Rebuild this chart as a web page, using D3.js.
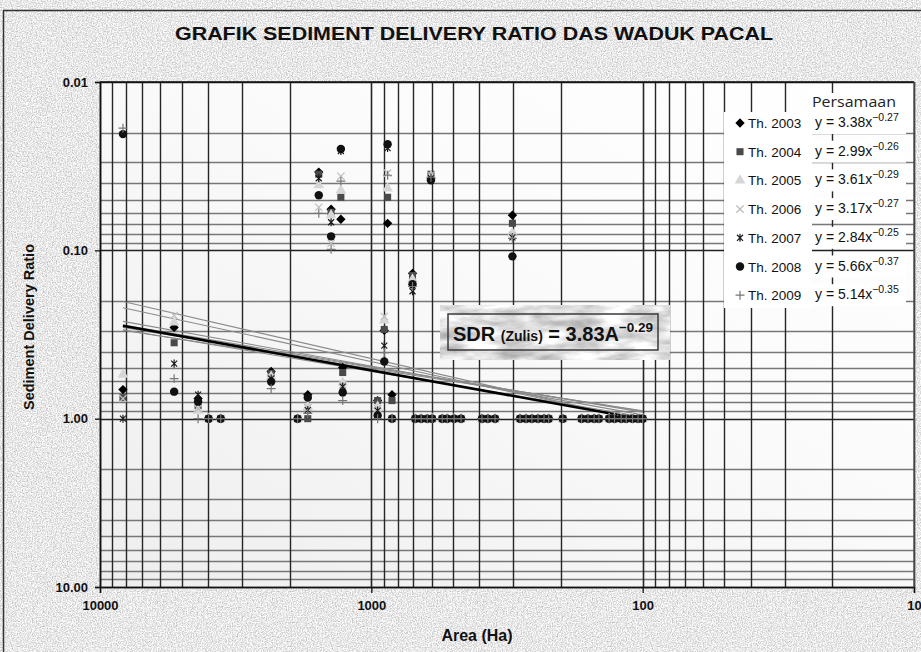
<!DOCTYPE html>
<html>
<head>
<meta charset="utf-8">
<script src="https://cdn.jsdelivr.net/npm/d3@7"></script>
<style>
  body { margin: 0; background: #fff; }
  svg { display: block; font-family: Arial, "Liberation Sans", sans-serif; }
</style>
</head>
<body>
<svg width="921" height="652"></svg>
<script>
// ---- values ----
const years = ['Th. 2003', 'Th. 2004', 'Th. 2005', 'Th. 2006', 'Th. 2007', 'Th. 2008', 'Th. 2009'];
const coefA = [3.38, 2.99, 3.61, 3.17, 2.84, 5.66, 5.14];
const coefB = [-0.27, -0.26, -0.29, -0.27, -0.25, -0.37, -0.35];
const zulis = [3.83, -0.29];
const trendRange = [8230, 100];

// sub-catchments whose SDR changes from year to year (area in Ha)
const areas = [8230, 5330, 4350, 2340, 1715, 1562, 1407, 1295, 1275, 948, 896, 871, 839, 705, 603, 302];
const sdr2003 = [0.672, 0.287, 0.760, 0.525, 0.72, 0.0343, 0.0570, 0.0654, 0.497, 0.781, 0.299, 0.0691, 0.720, 0.137, 0.0373, 0.0619];
const sdr2004 = [0.750, 0.354, 0.837, 0.540, 1.00, 0.0353, 0.0594, 0.0484, 0.532, 0.781, 0.295, 0.0484, 0.781, 0.141, 0.0353, 0.0691];
const sdr2005 = [0.547, 0.268, 0.896, 0.562, 0.85, 0.0410, 0.0619, 0.0440, 0.611, 0.849, 0.261, 0.0428, 1.00, 0.149, 0.0363, 0.0792];
const sdr2006 = [0.760, 0.244, 0.872, 0.570, 0.86, 0.0555, 0.0908, 0.0363, 0.628, 0.872, 0.247, 0.0348, 1.00, 0.157, 0.0358, 0.0814];
const sdr2007 = [1.00, 0.471, 0.720, 0.578, 0.89, 0.0373, 0.0681, 0.0257, 0.645, 0.896, 0.368, 0.0247, 1.00, 0.175, 0.0373, 0.0837];
const sdr2008 = [0.0204, 0.691, 0.792, 0.603, 0.75, 0.0471, 0.0826, 0.0250, 0.700, 0.959, 0.458, 0.0234, 1.00, 0.159, 0.0383, 0.1086];
const sdr2009 = [0.0188, 0.578, 1.00, 0.663, 0.93, 0.0602, 0.0986, 0.0388, 0.781, 1.00, 0.405, 0.0358, 1.00, 0.164, 0.0368, 0.0848];

// sub-catchments where every year gives SDR = 1.00
const areasAtOne = [3980, 3590, 1870, 689, 655, 622, 597, 548, 525, 495, 467, 391, 372, 350,
  283, 269, 256, 243, 231, 222, 197, 168, 159, 151, 145, 133, 127, 120, 115, 109, 104, 100];
const sdrAtOne = 1.0;

const yTickValues = [0.01, 0.1, 1, 10];
const xTickValues = [10000, 1000, 100, 10];

const series = [sdr2003, sdr2004, sdr2005, sdr2006, sdr2007, sdr2008, sdr2009];

// ---- layout ----
const svg = d3.select('svg');
const plotL = 100, plotR = 914, plotT = 82, plotB = 587;

const x = d3.scaleLog().domain([10000, 10]).range([plotL, plotR]);
const y = d3.scaleLog().domain([0.01, 10]).range([plotT, plotB]);

const defs = svg.append('defs');
const paper = defs.append('filter').attr('id', 'paper')
  .attr('filterUnits', 'userSpaceOnUse')
  .attr('x', 0).attr('y', 0).attr('width', 921).attr('height', 652)
  .attr('color-interpolation-filters', 'sRGB');
paper.append('feTurbulence').attr('type', 'fractalNoise')
  .attr('baseFrequency', 0.8).attr('numOctaves', 3).attr('seed', 4);
paper.append('feColorMatrix').attr('type', 'matrix')
  .attr('values', '0.5 0 0 0 0.66  0.5 0 0 0 0.66  0.5 0 0 0 0.66  0 0 0 0 1');

const marble = defs.append('filter').attr('id', 'marble')
  .attr('filterUnits', 'userSpaceOnUse')
  .attr('x', 440).attr('y', 305).attr('width', 230).attr('height', 55)
  .attr('color-interpolation-filters', 'sRGB');
marble.append('feTurbulence').attr('type', 'fractalNoise')
  .attr('baseFrequency', '0.03 0.1').attr('numOctaves', 4).attr('seed', 9);
marble.append('feColorMatrix').attr('type', 'matrix')
  .attr('values', '0.55 0 0 0 0.6  0.55 0 0 0 0.6  0.55 0 0 0 0.6  0 0 0 0 1');

const grad = defs.append('linearGradient').attr('id', 'plotbg')
  .attr('x1', 0).attr('y1', 1).attr('x2', 1).attr('y2', 0);
grad.append('stop').attr('offset', 0).attr('stop-color', '#eeeeee');
grad.append('stop').attr('offset', 0.6).attr('stop-color', '#fbfbfb');
grad.append('stop').attr('offset', 1).attr('stop-color', '#ffffff');

// textured page and frame
svg.append('rect').attr('x', 3).attr('y', 10).attr('width', 918).attr('height', 642)
  .attr('filter', 'url(#paper)');
svg.append('rect').attr('x', 3.5).attr('y', 10.5).attr('width', 930).attr('height', 660)
  .attr('fill', 'none').attr('stroke', '#333').attr('stroke-width', 1.5);

svg.append('rect').attr('x', plotL).attr('y', plotT)
  .attr('width', plotR - plotL).attr('height', plotB - plotT)
  .attr('fill', 'url(#plotbg)');

// gridlines
const isMajor = (v) => Math.abs(Math.log10(v) - Math.round(Math.log10(v))) < 1e-9;
svg.append('g').selectAll('line')
  .data(y.ticks())
  .join('line')
    .attr('x1', plotL).attr('x2', plotR)
    .attr('y1', (d) => Math.round(y(d)) + 0.5).attr('y2', (d) => Math.round(y(d)) + 0.5)
    .attr('stroke', (d) => isMajor(d) ? '#222' : '#777')
    .attr('stroke-width', (d) => isMajor(d) ? 1.5 : 1.3);
svg.append('g').selectAll('line')
  .data(x.ticks())
  .join('line')
    .attr('y1', plotT).attr('y2', plotB)
    .attr('x1', (d) => Math.round(x(d)) + 0.5).attr('x2', (d) => Math.round(x(d)) + 0.5)
    .attr('stroke', '#262626')
    .attr('stroke-width', (d) => isMajor(d) ? 1.6 : 1.4);

// axes
const yAxis = svg.append('g').attr('transform', `translate(${plotL},0)`)
  .call(d3.axisLeft(y).tickValues(yTickValues).tickFormat(d3.format('.2f'))
    .tickSize(5).tickPadding(7));
const xAxis = svg.append('g').attr('transform', `translate(0,${plotB})`)
  .call(d3.axisBottom(x).tickValues(xTickValues).tickFormat(d3.format('d'))
    .tickSize(6).tickPadding(8));
[yAxis, xAxis].forEach((g) => {
  g.select('.domain').attr('stroke', '#111').attr('stroke-width', 1.5);
  g.selectAll('.tick line').attr('stroke', '#111').attr('stroke-width', 1.3);
  g.selectAll('.tick text').attr('fill', '#111').attr('font-size', 13)
    .attr('font-weight', 'bold').attr('font-family', 'Arial, "Liberation Sans", sans-serif');
});
svg.append('line').attr('x1', plotL).attr('x2', plotR).attr('y1', plotT).attr('y2', plotT)
  .attr('stroke', '#111').attr('stroke-width', 1.5);
svg.append('line').attr('x1', plotR).attr('x2', plotR).attr('y1', plotT).attr('y2', plotB)
  .attr('stroke', '#555').attr('stroke-width', 1.3);

// trendlines
const line = d3.line().x((d) => x(d[0])).y((d) => y(d[1]));
const power = (a, b) => trendRange.map((A) => [A, a * Math.pow(A, b)]);
svg.append('g').selectAll('path')
  .data(coefA.map((a, i) => power(a, coefB[i])))
  .join('path')
    .attr('d', line)
    .attr('fill', 'none')
    .attr('stroke', '#8a8a8a')
    .attr('stroke-width', 1.1);
svg.append('path')
  .attr('d', line(power(zulis[0], zulis[1])))
  .attr('fill', 'none').attr('stroke', '#000').attr('stroke-width', 2.6);

// markers
const starX = {
  draw(ctx, size) {
    const r = Math.sqrt(size) * 0.62;
    const k = r * 0.75;
    ctx.moveTo(0, -r); ctx.lineTo(0, r);
    ctx.moveTo(-k, -k); ctx.lineTo(k, k);
    ctx.moveTo(-k, k); ctx.lineTo(k, -k);
  }
};
const markerStyle = [
  { type: d3.symbolDiamond2 || d3.symbolDiamond, size: 56, fill: '#000', stroke: null },
  { type: d3.symbolSquare, size: 50, fill: '#4a4a4a', stroke: null },
  { type: d3.symbolTriangle, size: 50, fill: '#d6d6d6', stroke: null },
  { type: d3.symbolX || d3.symbolCross, size: 36, fill: 'none', stroke: '#bcbcbc' },
  { type: starX, size: 42, fill: 'none', stroke: '#1a1a1a' },
  { type: d3.symbolCircle, size: 56, fill: '#111', stroke: null },
  { type: d3.symbolPlus || d3.symbolCross, size: 28, fill: 'none', stroke: '#777' }
];
const sym = (m) => d3.symbol().type(m.type).size(m.size)();

series.forEach((vals, i) => {
  const m = markerStyle[i];
  const pts = areas.map((A, j) => [A, vals[j]])
    .concat(areasAtOne.map((A) => [A, sdrAtOne]));
  svg.append('g').selectAll('path')
    .data(pts)
    .join('path')
      .attr('transform', (d) => `translate(${x(d[0])},${y(d[1])})`)
      .attr('d', sym(m))
      .attr('fill', m.fill)
      .attr('stroke', m.stroke || 'none')
      .attr('stroke-width', 1.2);
});

// legend
svg.append('rect').attr('x', 724).attr('y', 112).attr('width', 88).attr('height', 196)
  .attr('fill', '#fff');
svg.append('rect').attr('x', 809).attr('y', 93).attr('width', 92).attr('height', 19)
  .attr('fill', '#fff');
svg.append('text').attr('x', 812).attr('y', 107)
  .attr('font-family', '"Open Sans", "Noto Sans", sans-serif').attr('font-size', 15)
  .attr('textLength', 84).attr('lengthAdjust', 'spacingAndGlyphs')
  .attr('fill', '#222').text('Persamaan');

const fmt = d3.format('.2f');
years.forEach((name, i) => {
  const ry = 123 + i * 28.7;
  const m = markerStyle[i];
  svg.append('path')
    .attr('transform', `translate(740,${ry})`)
    .attr('d', sym(m))
    .attr('fill', m.fill).attr('stroke', m.stroke || 'none').attr('stroke-width', 1.2);
  svg.append('text').attr('x', 748).attr('y', ry + 5)
    .attr('font-size', 13.5).attr('fill', '#111').text(name);

  svg.append('rect').attr('x', 811).attr('y', ry - 11).attr('width', 95).attr('height', 22)
    .attr('fill', '#fff');
  const t = svg.append('text').attr('x', 815).attr('y', ry + 4)
    .attr('font-size', 14).attr('fill', '#111');
  t.append('tspan').text(`y = ${fmt(coefA[i])}x`);
  t.append('tspan').attr('dy', -6).attr('font-size', 10.5).text(fmt(coefB[i]));
});

// SDR (Zulis) label
svg.append('rect').attr('x', 448).attr('y', 314).attr('width', 210).attr('height', 36)
  .attr('filter', 'url(#marble)');
svg.append('rect').attr('x', 448).attr('y', 314).attr('width', 210).attr('height', 36)
  .attr('fill', 'none').attr('stroke', '#3a3a3a').attr('stroke-width', 1.5);
const sdr = svg.append('text').attr('x', 453).attr('y', 341)
  .attr('font-weight', 'bold').attr('font-size', 20).attr('fill', '#111');
sdr.append('tspan').text('SDR ');
sdr.append('tspan').attr('font-size', 14).text('(Zulis)');
sdr.append('tspan').text(` = ${zulis[0]}A`);
sdr.append('tspan').attr('dy', -9).attr('font-size', 13.5).text(fmt(zulis[1]));

// titles
svg.append('text').attr('x', 474).attr('y', 40).attr('text-anchor', 'middle')
  .attr('font-weight', 'bold').attr('font-size', 19).attr('fill', '#111')
  .attr('textLength', 598).attr('lengthAdjust', 'spacingAndGlyphs')
  .text('GRAFIK SEDIMENT DELIVERY RATIO DAS WADUK PACAL');
svg.append('text').attr('transform', 'translate(34,327) rotate(-90)')
  .attr('text-anchor', 'middle').attr('font-weight', 'bold').attr('font-size', 14.5)
  .attr('fill', '#111').text('Sediment Delivery Ratio');
svg.append('text').attr('x', 477).attr('y', 641).attr('text-anchor', 'middle')
  .attr('font-weight', 'bold').attr('font-size', 16).attr('fill', '#111').text('Area (Ha)');
</script>
</body>
</html>
